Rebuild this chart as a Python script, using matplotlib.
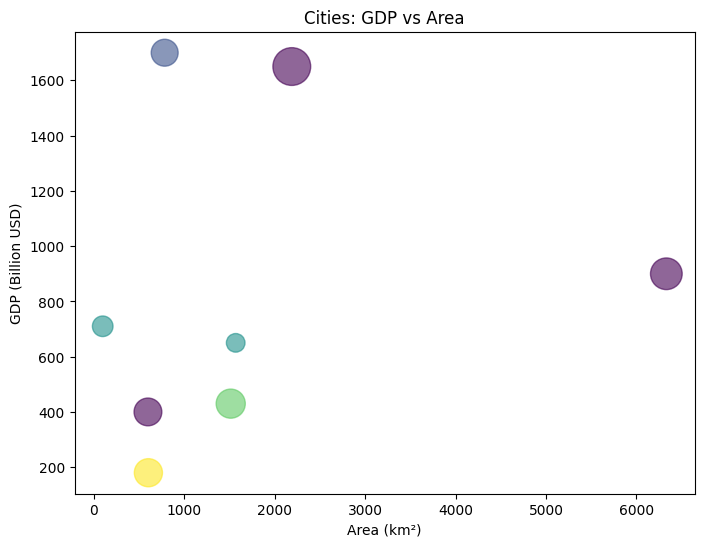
import numpy as np
import matplotlib.pyplot as plt

# values
area = [785, 2190, 6330, 100, 1570, 600, 1515, 605]
gdp = [1700, 1650, 900, 710, 650, 400, 430, 180]
population = [18.8, 37.0, 26.0, 11.0, 9.0, 20.0, 22.0, 20.5]  # millions, drives bubble size
region = [1, 0, 0, 2, 2, 0, 3, 4]  # colour group

sizes = np.array(population) * 20

plt.figure(figsize=(8, 6))
plt.scatter(area, gdp, s=sizes, c=region, cmap="viridis", vmin=0, vmax=4, alpha=0.6)
plt.xlabel("Area (km²)")
plt.ylabel("GDP (Billion USD)")
plt.title("Cities: GDP vs Area")
plt.savefig("out.png", bbox_inches="tight")
